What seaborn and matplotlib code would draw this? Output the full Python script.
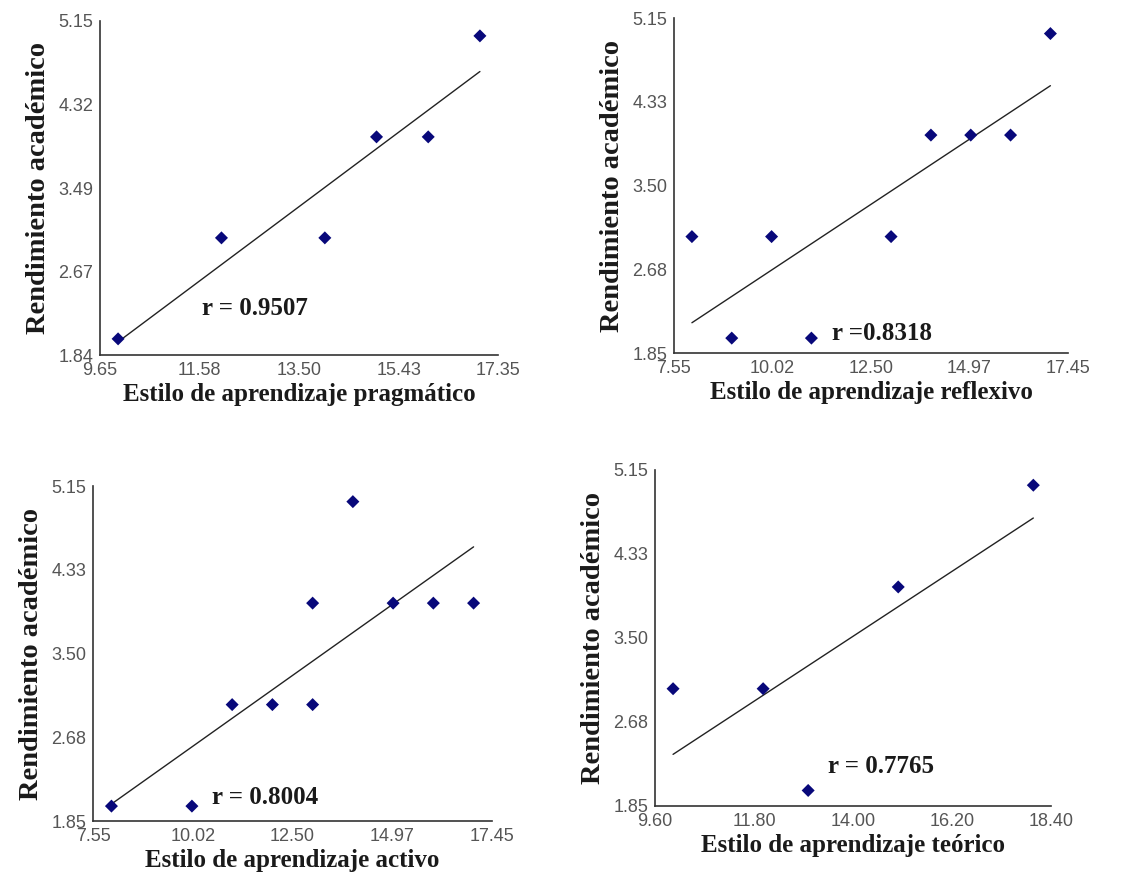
import matplotlib
matplotlib.use("Agg")
import matplotlib.pyplot as plt
import seaborn as sns
import pandas as pd

# data
prag_x = [10, 12, 14, 15, 16, 17]
prag_y = [2, 3, 3, 4, 4, 5]
refl_x = [8, 9, 10, 11, 13, 14, 15, 16, 17]
refl_y = [3, 2, 3, 2, 3, 4, 4, 4, 5]
act_x = [8, 10, 11, 12, 13, 13, 14, 15, 16, 17]
act_y = [2, 2, 3, 3, 3, 4, 5, 4, 4, 4]
teo_x = [10, 12, 13, 15, 18]
teo_y = [3, 3, 2, 4, 5]

prag_xticks = [9.65, 11.58, 13.50, 15.43, 17.35]
prag_yticks = [1.84, 2.67, 3.49, 4.32, 5.15]
refl_xticks = [7.55, 10.02, 12.50, 14.97, 17.45]
act_xticks = [7.55, 10.02, 12.50, 14.97, 17.45]
teo_xticks = [9.60, 11.80, 14.00, 16.20, 18.40]
other_yticks = [1.85, 2.68, 3.50, 4.33, 5.15]

labels = ["Estilo de aprendizaje pragmático", "Estilo de aprendizaje reflexivo",
          "Estilo de aprendizaje activo", "Estilo de aprendizaje teórico"]
r_texts = ["r = 0.9507", "r =0.8318", "r = 0.8004", "r = 0.7765"]
r_pos = [(11.62, 2.30), (11.52, 2.05), (10.49, 2.08), (13.43, 2.24)]

sns.set_style("white")
serif = "Liberation Serif"

fig = plt.figure(figsize=(11.48, 8.86), dpi=100)
boxes = [
    [0.0871, 0.5993, 0.3467, 0.3773],
    [0.5871, 0.6012, 0.3435, 0.3781],
    [0.0813, 0.0730, 0.3470, 0.3780],
    [0.5706, 0.0906, 0.3452, 0.3790],
]
panels = [
    (prag_x, prag_y, prag_xticks, prag_yticks),
    (refl_x, refl_y, refl_xticks, other_yticks),
    (act_x, act_y, act_xticks, other_yticks),
    (teo_x, teo_y, teo_xticks, other_yticks),
]

for i, (xs, ys, xt, yt) in enumerate(panels):
    ax = fig.add_axes(boxes[i])
    df = pd.DataFrame({"x": xs, "y": ys})
    sns.regplot(data=df, x="x", y="y", ax=ax, ci=None, truncate=True,
                marker="D",
                scatter_kws={"s": 44, "color": "#08087a", "alpha": 1,
                             "edgecolor": "none", "zorder": 3},
                line_kws={"color": "#222222", "lw": 1.0})
    ax.set_xlim(xt[0], xt[-1])
    ax.set_ylim(yt[0], yt[-1])
    ax.set_xticks(xt)
    ax.set_yticks(yt)
    ax.set_xticklabels([f"{v:.2f}" for v in xt], family="Liberation Sans", color="#555555", fontsize=13)
    ax.set_yticklabels([f"{v:.2f}" for v in yt], family="Liberation Sans", color="#555555", fontsize=13)
    ax.tick_params(direction="in", length=5, width=1, color="#333333", pad=5)
    for s in ["top", "right"]:
        ax.spines[s].set_visible(False)
    for s in ["left", "bottom"]:
        ax.spines[s].set_color("#333333")
        ax.spines[s].set_linewidth(1.2)
    ax.set_xlabel(labels[i], family=serif, fontsize=18, fontweight="bold",
                  color="#1a1a1a", labelpad=3)
    ax.set_ylabel("Rendimiento académico", family=serif, fontsize=20.5,
                  fontweight="bold", color="#1a1a1a", labelpad=5)
    ax.text(r_pos[i][0], r_pos[i][1], r_texts[i], family=serif, fontsize=18,
            fontweight="bold", color="#1a1a1a", va="center", ha="left")

fig.savefig("out.png", dpi=100)
